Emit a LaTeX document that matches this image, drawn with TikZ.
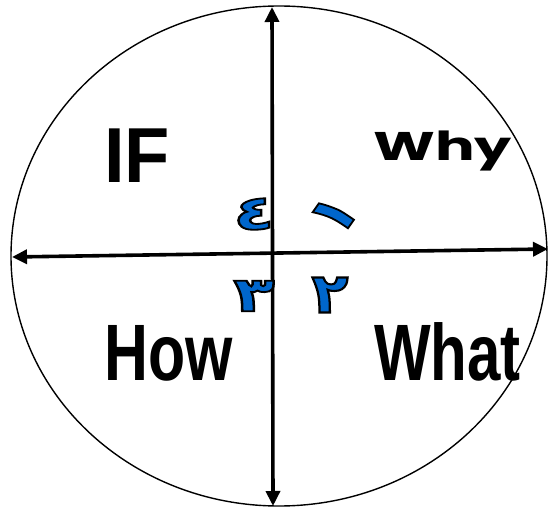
\documentclass[tikz,border=0pt]{standalone}
\usepackage{fontspec}
\usepackage{graphicx}
\usetikzlibrary{arrows.meta}
\setmainfont{Liberation Sans}
\newfontfamily\arabicfont[Script=Arabic]{DejaVu Sans}
\newfontfamily\whyfont{Poppins}
\definecolor{digitblue}{RGB}{0,102,204}
\newcommand{\outlined}[1]{{\special{pdf:literal direct 2 Tr 1.8 w 0 0 0 RG}#1\special{pdf:literal direct 0 Tr}}}
\tikzset{
  axis/.style={line width=3.6pt,{Triangle[length=15pt,width=14pt]}-{Triangle[length=15pt,width=14pt]}},
  word/.style={anchor=base west,inner sep=0pt,font=\bfseries\fontsize{80}{80}\selectfont},
  digit/.style={anchor=center,inner sep=0pt,text=digitblue,font=\arabicfont\bfseries\fontsize{48}{48}\selectfont},
}
\begin{document}
\begin{tikzpicture}[x=1pt,y=-1pt]
\useasboundingbox (0,0) rectangle (548,510);
\draw[line width=1.4pt] (279,256) ellipse [x radius=268,y radius=250];
\coordinate (top) at (272,7);
\coordinate (bot) at (273,506);
\coordinate (lft) at (12,257);
\coordinate (rgt) at (548,249);
\draw[axis] (top) -- (bot);
\draw[axis] (lft) -- (rgt);
\node[word,font=\bfseries\fontsize{78}{78}\selectfont] (if) at (104,183) {\scalebox{0.95}[1]{IF}};
\node[word] (how) at (104,380) {\scalebox{0.76}[1]{How}};
\node[word] (what) at (374,380) {\scalebox{0.75}[1]{What}};
\node[anchor=base west,inner sep=0pt,font=\whyfont\bfseries\fontsize{40}{40}\selectfont] (why) at (373,161) {\scalebox{1.47}[1]{Why}};
\node[digit] (d4) at (254,214) {\scalebox{1.4}[1]{\outlined{٤}}};
\node[digit,rotate=55,font=\arabicfont\bfseries\fontsize{60}{60}\selectfont] (d1) at (334,215) {\outlined{١}};
\node[digit] (d3) at (254,296) {\scalebox{1.4}[1]{\outlined{٣}}};
\node[digit] (d2) at (330,295) {\scalebox{1.25}[1.15]{\outlined{٢}}};
\end{tikzpicture}
\end{document}
